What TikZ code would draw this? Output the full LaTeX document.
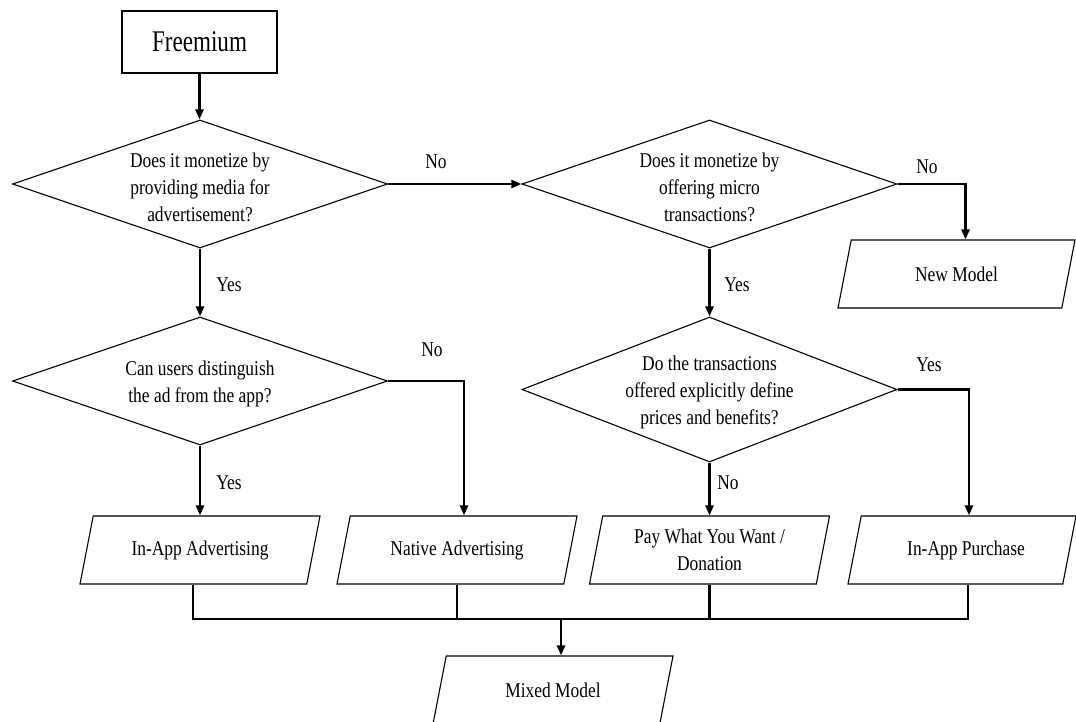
\documentclass[tikz,border=0pt]{standalone}
\usepackage{fontspec}
\setmainfont{Liberation Serif}[FakeStretch=0.83]
\newfontfamily\titlefont{Liberation Serif}[FakeStretch=0.77]
\usetikzlibrary{shapes.geometric,arrows.meta,calc}
\begin{document}
\begin{tikzpicture}[x=1pt,y=-1pt,
  shapeline/.style={draw, line width=1.1pt},
  dia/.style={shapeline, diamond, minimum width=375pt, minimum height=128pt, inner sep=0pt},
  para/.style={shapeline, trapezium, trapezium left angle=79, trapezium right angle=101,
    trapezium stretches body, minimum width=240pt, text height=68pt, text depth=0pt,
    inner sep=0pt},
  txt/.style={align=center, font=\fontsize{21}{27}\selectfont, inner sep=0pt},
  lab/.style={font=\fontsize{21}{27}\selectfont, inner sep=0pt},
  conn/.style={line width=2.6pt, line join=miter},
  arr/.style={conn, -{Triangle[length=10pt,width=8pt]}},
]
\fill[white] (0,0) rectangle (1076,722);
\useasboundingbox (0,0) rectangle (1076,722);

% start box
\node[shapeline, minimum width=155pt, minimum height=62pt, inner sep=0pt,
  font=\titlefont\fontsize{30}{36}\selectfont] (fr) at (199.5,42) {Freemium};

% decisions
\node[dia] (d1) at (200,184) {};
\node[txt] (t1) at ([yshift=-3pt]d1.center) {Does it monetize by\\providing media for\\advertisement?};
\node[dia] (d2) at (709.5,184) {};
\node[txt] (t2) at ([yshift=-3pt]d2.center) {Does it monetize by\\offering micro\\transactions?};
\node[dia] (d3) at (200,381) {};
\node[txt] (t3) at ([yshift=-3pt]d3.center) {Can users distinguish\\the ad from the app?};
\node[dia, minimum height=145pt] (d4) at (709.5,389.5) {};
\node[txt] (t4) at ([yshift=-3pt]d4.center) {Do the transactions\\offered explicitly define\\prices and benefits?};

% outcomes
\node[para] (iaa) at (200,550) {};
\node[txt] (iaat) at (iaa.center) {In-App Advertising};
\node[para] (nad) at (457,550) {};
\node[txt] (nadt) at (nad.center) {Native Advertising};
\node[para] (pw) at (709.5,550) {};
\node[txt] (pwt) at (pw.center) {Pay What You Want /\\Donation};
\node[para, minimum width=228pt] (iap) at (962,550) {};
\node[txt] (iapt) at ([xshift=4pt]iap.center) {In-App Purchase};
\node[para, minimum width=237pt] (nm) at (956.5,274) {};
\node[txt] (nmt) at (nm.center) {New Model};
\node[para] (mm) at (553,690) {};
\node[txt] (mmt) at (mm.center) {Mixed Model};

% labels
\node[lab] (l1) at (436,162) {No};
\node[lab] (l2) at (927,167) {No};
\node[lab] (l3) at (229,285) {Yes};
\node[lab] (l4) at (737,285) {Yes};
\node[lab] (l5) at (432,350) {No};
\node[lab] (l6) at (929,365) {Yes};
\node[lab] (l7) at (229,483) {Yes};
\node[lab] (l8) at (728,483) {No};

% connectors
\draw[arr] (fr.south) -- (fr.south |- d1.north);
\draw[arr] (d1.east) -- (d2.west);
\draw[arr] (d2.east) -| ([xshift=9pt]nm.north);
\draw[arr] (d1.south) -- (d3.north);
\draw[arr] (d2.south) -- (d2.south |- d4.north);
\draw[arr] (d3.east) -| ([xshift=7pt]nad.north);
\draw[arr] (d3.south) -- (d3.south |- iaa.north);
\draw[arr] (d4.east) -| ([xshift=7pt]iap.north);
\draw[arr] (d4.south) -- (d4.south |- pw.north);

\coordinate (bus) at (0,619);
\draw[conn] ([xshift=-7pt]iaa.south) -- ([xshift=-7pt]iaa.south |- bus)
  -- ([xshift=6pt]iap.south |- bus) -- ([xshift=6pt]iap.south);
\draw[conn] (nad.south) -- (nad.south |- bus);
\draw[conn] (pw.south) -- (pw.south |- bus);
\draw[arr] ([xshift=8pt]mm.north |- bus) -- ([xshift=8pt]mm.north);
\end{tikzpicture}
\end{document}
